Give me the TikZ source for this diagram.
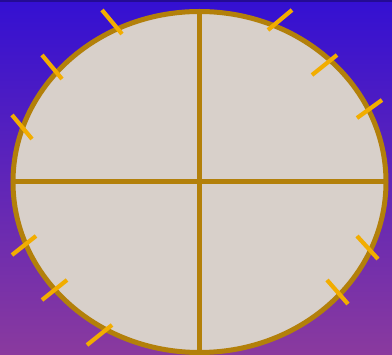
\documentclass[tikz,border=0pt]{standalone}
\begin{document}
\begin{tikzpicture}[x=1pt,y=-1pt,
  rim/.style={draw=rimc,line width=5pt},
  crossline/.style={draw=rimc,line width=5pt},
  tick/.style={draw=tickc,line width=4.2pt}]
\definecolor{rimc}{HTML}{B3800A}
\definecolor{tickc}{HTML}{F2AD00}
\definecolor{facec}{HTML}{D8D0CA}
\definecolor{bgtop}{HTML}{3410D2}
\definecolor{bgmid}{HTML}{7008D8}
\definecolor{bgbot}{HTML}{8A3A9E}
\useasboundingbox (0,0) rectangle (392,355);
\shade[top color=bgtop,middle color=bgmid,bottom color=bgbot] (0,0) rectangle (392,355);
\fill[bgtop!70!black] (0,0) rectangle (392,2.5);
\coordinate (c) at (199.5,182);
\begin{scope}
\clip (c) ellipse [x radius=186.5, y radius=170.5];
\fill[facec] (c) ellipse [x radius=186.5, y radius=170.5];
\draw[crossline] (199.5,0) -- (199.5,355);
\draw[crossline] (0,182) -- (392,182);
\end{scope}
\draw[rim] (c) ellipse [x radius=186.5, y radius=170.5];
\draw[tick] (102,10) -- (122,34);
\draw[tick] (42,55) -- (62,79);
\draw[tick] (12,115) -- (32,139);
\draw[tick] (268,30) -- (292,10);
\draw[tick] (312,75) -- (337,55);
\draw[tick] (357,118) -- (382,100);
\draw[tick] (12,255) -- (36,236);
\draw[tick] (42,300) -- (67,280);
\draw[tick] (87,345) -- (112,325);
\draw[tick] (357,236) -- (378,259);
\draw[tick] (327,280) -- (348,304);
\end{tikzpicture}
\end{document}
